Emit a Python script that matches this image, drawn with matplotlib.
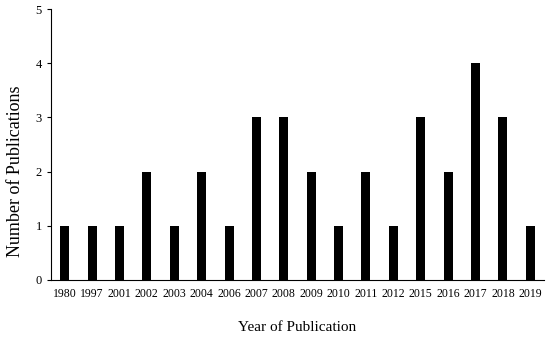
import matplotlib
matplotlib.use("Agg")
import matplotlib.pyplot as plt

years = ["1980", "1997", "2001", "2002", "2003", "2004", "2006", "2007", "2008",
         "2009", "2010", "2011", "2012", "2015", "2016", "2017", "2018", "2019"]
counts = [1, 1, 1, 2, 1, 2, 1, 3, 3, 2, 1, 2, 1, 3, 2, 4, 3, 1]

plt.rcParams['font.family'] = ['Liberation Serif', 'DejaVu Serif']

fig = plt.figure(figsize=(5.5, 3.41), dpi=100)
ax = fig.add_axes([51/550, 1 - 280/341, (544-51)/550, (280-9)/341])
ax.bar(range(len(years)), counts, width=0.33, color='black')
ax.set_xlim(-0.5, len(years) - 0.5)
ax.set_ylim(0, 5)
ax.set_xticks(range(len(years)))
ax.set_xticklabels(years, fontsize=8.5)
ax.set_yticks(range(6))
ax.tick_params(axis='y', labelsize=9, length=3, direction='out')
ax.tick_params(axis='x', length=0, pad=6)
for s in ['top', 'right']:
    ax.spines[s].set_visible(False)
ax.set_ylabel("Number of Publications", fontsize=13)
ax.yaxis.set_label_coords(-0.054, 0.40)
ax.set_xlabel("Year of Publication", fontsize=11, labelpad=15)
fig.savefig("out.png", dpi=100)
